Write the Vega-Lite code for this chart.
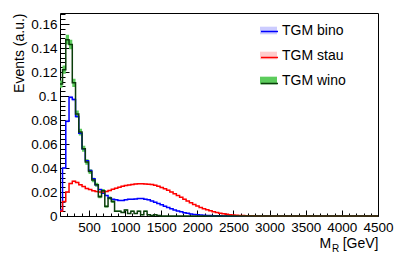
{
  "$schema": "https://vega.github.io/schema/vega-lite/v6.json",
  "width": 318,
  "height": 203,
  "autosize": "none",
  "padding": {"left": 60, "top": 13, "right": 21, "bottom": 39},
  "background": "white",
  "config": {
    "view": {"stroke": "#000000", "strokeWidth": 1},
    "font": "Liberation Sans",
    "axis": {"grid": false, "domain": false, "tickColor": "#000000", "labelColor": "#000000", "titleColor": "#000000", "titleFontWeight": "normal", "labelFont": "Liberation Sans", "titleFont": "Liberation Sans", "labelOverlap": false, "labelFlush": false}
  },
  "data": {"values": [
    {"s":"TGM bino","x":100,"y":0.005,"e":0.0004},
    {"s":"TGM bino","x":135,"y":0.040,"e":0.0008},
    {"s":"TGM bino","x":180,"y":0.079,"e":0.0012},
    {"s":"TGM bino","x":225,"y":0.099,"e":0.0013},
    {"s":"TGM bino","x":270,"y":0.097,"e":0.0013},
    {"s":"TGM bino","x":315,"y":0.083,"e":0.0012},
    {"s":"TGM bino","x":360,"y":0.069,"e":0.0011},
    {"s":"TGM bino","x":405,"y":0.056,"e":0.001},
    {"s":"TGM bino","x":450,"y":0.046,"e":0.0009},
    {"s":"TGM bino","x":495,"y":0.038,"e":0.0008},
    {"s":"TGM bino","x":540,"y":0.031,"e":0.0007},
    {"s":"TGM bino","x":585,"y":0.026,"e":0.0006},
    {"s":"TGM bino","x":630,"y":0.022,"e":0.0006},
    {"s":"TGM bino","x":675,"y":0.019,"e":0.0005},
    {"s":"TGM bino","x":720,"y":0.017,"e":0.0005},
    {"s":"TGM bino","x":765,"y":0.015,"e":0.0005},
    {"s":"TGM bino","x":810,"y":0.014,"e":0.0005},
    {"s":"TGM bino","x":855,"y":0.0135,"e":0.0005},
    {"s":"TGM bino","x":900,"y":0.013,"e":0.0005},
    {"s":"TGM bino","x":945,"y":0.013,"e":0.0005},
    {"s":"TGM bino","x":990,"y":0.0135,"e":0.0005},
    {"s":"TGM bino","x":1035,"y":0.014,"e":0.0005},
    {"s":"TGM bino","x":1080,"y":0.014,"e":0.0005},
    {"s":"TGM bino","x":1125,"y":0.0142,"e":0.0005},
    {"s":"TGM bino","x":1170,"y":0.0145,"e":0.0005},
    {"s":"TGM bino","x":1215,"y":0.0145,"e":0.0005},
    {"s":"TGM bino","x":1260,"y":0.014,"e":0.0005},
    {"s":"TGM bino","x":1305,"y":0.0135,"e":0.0005},
    {"s":"TGM bino","x":1350,"y":0.0125,"e":0.0005},
    {"s":"TGM bino","x":1395,"y":0.0115,"e":0.0004},
    {"s":"TGM bino","x":1440,"y":0.0105,"e":0.0004},
    {"s":"TGM bino","x":1485,"y":0.0093,"e":0.0004},
    {"s":"TGM bino","x":1530,"y":0.0082,"e":0.0004},
    {"s":"TGM bino","x":1575,"y":0.007,"e":0.0004},
    {"s":"TGM bino","x":1620,"y":0.006,"e":0.0003},
    {"s":"TGM bino","x":1665,"y":0.005,"e":0.0003},
    {"s":"TGM bino","x":1710,"y":0.0042,"e":0.0003},
    {"s":"TGM bino","x":1755,"y":0.0035,"e":0.0003},
    {"s":"TGM bino","x":1800,"y":0.0028,"e":0.0002},
    {"s":"TGM bino","x":1845,"y":0.0022,"e":0.0002},
    {"s":"TGM bino","x":1890,"y":0.0017,"e":0.0002},
    {"s":"TGM bino","x":1935,"y":0.0013,"e":0.0002},
    {"s":"TGM bino","x":1980,"y":0.001,"e":0.0001},
    {"s":"TGM bino","x":2025,"y":0.0008,"e":0.0001},
    {"s":"TGM bino","x":2070,"y":0.0006,"e":0.0001},
    {"s":"TGM bino","x":2115,"y":0.0005,"e":0.0001},
    {"s":"TGM bino","x":2160,"y":0.0004,"e":0.0001},
    {"s":"TGM bino","x":2205,"y":0.0003,"e":0.0001},
    {"s":"TGM bino","x":2250,"y":0.0002,"e":0.0001},
    {"s":"TGM bino","x":2340,"y":0.0001,"e":0.0001},
    {"s":"TGM bino","x":2430,"y":0,"e":0},
    {"s":"TGM bino","x":4500,"y":0,"e":0},
    {"s":"TGM stau","x":100,"y":0.004,"e":0.0003},
    {"s":"TGM stau","x":135,"y":0.012,"e":0.0005},
    {"s":"TGM stau","x":180,"y":0.020,"e":0.0006},
    {"s":"TGM stau","x":225,"y":0.027,"e":0.0007},
    {"s":"TGM stau","x":270,"y":0.029,"e":0.0007},
    {"s":"TGM stau","x":315,"y":0.028,"e":0.0007},
    {"s":"TGM stau","x":360,"y":0.026,"e":0.0007},
    {"s":"TGM stau","x":405,"y":0.0245,"e":0.0006},
    {"s":"TGM stau","x":450,"y":0.023,"e":0.0006},
    {"s":"TGM stau","x":495,"y":0.022,"e":0.0006},
    {"s":"TGM stau","x":540,"y":0.021,"e":0.0006},
    {"s":"TGM stau","x":585,"y":0.0205,"e":0.0006},
    {"s":"TGM stau","x":630,"y":0.020,"e":0.0006},
    {"s":"TGM stau","x":675,"y":0.020,"e":0.0006},
    {"s":"TGM stau","x":720,"y":0.0205,"e":0.0006},
    {"s":"TGM stau","x":765,"y":0.0213,"e":0.0006},
    {"s":"TGM stau","x":810,"y":0.0222,"e":0.0006},
    {"s":"TGM stau","x":855,"y":0.0232,"e":0.0006},
    {"s":"TGM stau","x":900,"y":0.024,"e":0.0006},
    {"s":"TGM stau","x":945,"y":0.0248,"e":0.0006},
    {"s":"TGM stau","x":990,"y":0.0254,"e":0.0006},
    {"s":"TGM stau","x":1035,"y":0.0259,"e":0.0006},
    {"s":"TGM stau","x":1080,"y":0.0263,"e":0.0006},
    {"s":"TGM stau","x":1125,"y":0.0266,"e":0.0006},
    {"s":"TGM stau","x":1170,"y":0.0268,"e":0.0006},
    {"s":"TGM stau","x":1215,"y":0.0268,"e":0.0006},
    {"s":"TGM stau","x":1260,"y":0.0267,"e":0.0006},
    {"s":"TGM stau","x":1305,"y":0.0265,"e":0.0006},
    {"s":"TGM stau","x":1350,"y":0.0262,"e":0.0006},
    {"s":"TGM stau","x":1395,"y":0.0256,"e":0.0006},
    {"s":"TGM stau","x":1440,"y":0.0248,"e":0.0006},
    {"s":"TGM stau","x":1485,"y":0.0238,"e":0.0006},
    {"s":"TGM stau","x":1530,"y":0.0227,"e":0.0006},
    {"s":"TGM stau","x":1575,"y":0.0214,"e":0.0006},
    {"s":"TGM stau","x":1620,"y":0.0200,"e":0.0006},
    {"s":"TGM stau","x":1665,"y":0.0186,"e":0.0005},
    {"s":"TGM stau","x":1710,"y":0.0171,"e":0.0005},
    {"s":"TGM stau","x":1755,"y":0.0156,"e":0.0005},
    {"s":"TGM stau","x":1800,"y":0.0140,"e":0.0005},
    {"s":"TGM stau","x":1845,"y":0.0125,"e":0.0005},
    {"s":"TGM stau","x":1890,"y":0.0110,"e":0.0004},
    {"s":"TGM stau","x":1935,"y":0.0096,"e":0.0004},
    {"s":"TGM stau","x":1980,"y":0.0083,"e":0.0004},
    {"s":"TGM stau","x":2025,"y":0.0071,"e":0.0004},
    {"s":"TGM stau","x":2070,"y":0.0061,"e":0.0003},
    {"s":"TGM stau","x":2115,"y":0.0052,"e":0.0003},
    {"s":"TGM stau","x":2160,"y":0.0044,"e":0.0003},
    {"s":"TGM stau","x":2205,"y":0.0036,"e":0.0003},
    {"s":"TGM stau","x":2250,"y":0.0029,"e":0.0002},
    {"s":"TGM stau","x":2295,"y":0.0023,"e":0.0002},
    {"s":"TGM stau","x":2340,"y":0.0018,"e":0.0002},
    {"s":"TGM stau","x":2385,"y":0.0014,"e":0.0002},
    {"s":"TGM stau","x":2430,"y":0.0011,"e":0.0001},
    {"s":"TGM stau","x":2475,"y":0.0008,"e":0.0001},
    {"s":"TGM stau","x":2520,"y":0.0006,"e":0.0001},
    {"s":"TGM stau","x":2565,"y":0.0005,"e":0.0001},
    {"s":"TGM stau","x":2610,"y":0.0004,"e":0.0001},
    {"s":"TGM stau","x":2655,"y":0.0003,"e":0.0001},
    {"s":"TGM stau","x":2700,"y":0.0002,"e":0.0001},
    {"s":"TGM stau","x":2790,"y":0.0001,"e":0.0001},
    {"s":"TGM stau","x":2880,"y":0,"e":0},
    {"s":"TGM stau","x":4500,"y":0,"e":0},
    {"s":"TGM wino","x":100,"y":0.110,"e":0.003},
    {"s":"TGM wino","x":135,"y":0.122,"e":0.0035},
    {"s":"TGM wino","x":180,"y":0.147,"e":0.004},
    {"s":"TGM wino","x":225,"y":0.143,"e":0.004},
    {"s":"TGM wino","x":270,"y":0.111,"e":0.0035},
    {"s":"TGM wino","x":315,"y":0.085,"e":0.003},
    {"s":"TGM wino","x":360,"y":0.070,"e":0.0028},
    {"s":"TGM wino","x":405,"y":0.056,"e":0.0025},
    {"s":"TGM wino","x":450,"y":0.045,"e":0.0022},
    {"s":"TGM wino","x":495,"y":0.037,"e":0.002},
    {"s":"TGM wino","x":540,"y":0.030,"e":0.0018},
    {"s":"TGM wino","x":585,"y":0.026,"e":0.0017},
    {"s":"TGM wino","x":630,"y":0.016,"e":0.0013},
    {"s":"TGM wino","x":675,"y":0.021,"e":0.0015},
    {"s":"TGM wino","x":720,"y":0.008,"e":0.001},
    {"s":"TGM wino","x":765,"y":0.015,"e":0.0012},
    {"s":"TGM wino","x":810,"y":0.012,"e":0.0011},
    {"s":"TGM wino","x":855,"y":0.004,"e":0.0006},
    {"s":"TGM wino","x":900,"y":0.004,"e":0.0006},
    {"s":"TGM wino","x":945,"y":0.003,"e":0.0005},
    {"s":"TGM wino","x":990,"y":0.005,"e":0.0007},
    {"s":"TGM wino","x":1035,"y":0.002,"e":0.0004},
    {"s":"TGM wino","x":1080,"y":0.004,"e":0.0006},
    {"s":"TGM wino","x":1125,"y":0.002,"e":0.0004},
    {"s":"TGM wino","x":1170,"y":0.004,"e":0.0006},
    {"s":"TGM wino","x":1215,"y":0.001,"e":0.0003},
    {"s":"TGM wino","x":1260,"y":0.004,"e":0.0006},
    {"s":"TGM wino","x":1305,"y":0.001,"e":0.0003},
    {"s":"TGM wino","x":1350,"y":0.0005,"e":0.0002},
    {"s":"TGM wino","x":1395,"y":0.001,"e":0.0003},
    {"s":"TGM wino","x":1440,"y":0.0005,"e":0.0002},
    {"s":"TGM wino","x":1485,"y":0,"e":0},
    {"s":"TGM wino","x":4500,"y":0,"e":0}
  ]},
  "layer": [
    {
      "mark": {"type": "errorband", "interpolate": "step-after", "band": {"opacity": 1}},
      "encoding": {
        "x": {"field": "x", "type": "quantitative", "scale": {"domain": [100, 4500], "nice": false, "zero": false},
              "axis": {"orient": "bottom", "values": [500,1000,1500,2000,2500,3000,3500,4000,4500], "format": "d", "tickSize": -6, "labelPadding": 10, "labelFontSize": 13.5,
                       "title": "M", "titleFontSize": 14, "titleAlign": "left", "titleBaseline": "alphabetic", "titleX": 259, "titleY": 31.5}},
        "y": {"field": "y", "type": "quantitative", "scale": {"domain": [0, 0.1692], "nice": false},
              "axis": {"orient": "left", "values": [0,0.02,0.04,0.06,0.08,0.1,0.12,0.14,0.16], "format": "~g", "tickSize": -9, "labelPadding": 12, "labelFontSize": 13.5,
                       "title": "Events (a.u.)", "titleFontSize": 14, "titleAngle": -90, "titleAlign": "right", "titleBaseline": "alphabetic", "titleX": -37, "titleY": 0}},
        "yError": {"field": "e"},
        "color": {"field": "s", "type": "nominal",
                  "scale": {"domain": ["TGM bino", "TGM stau", "TGM wino"], "range": ["#ccccff", "#ffcccc", "#5ccc5c"]},
                  "legend": {"orient": "none", "legendX": 200, "legendY": 9, "title": null, "padding": 0,
                             "symbolType": "M-1,-0.45H1V0.45H-1Z", "symbolSize": 289, "symbolStrokeWidth": 0, "symbolOpacity": 1,
                             "labelFontSize": 14, "labelFont": "Liberation Sans", "labelColor": "#000000", "labelOffset": 5, "rowPadding": 9}}
      }
    },
    {
      "transform": [{"filter": "datum.s !== 'TGM wino'"}],
      "mark": {"type": "line", "interpolate": "step-after", "strokeWidth": 1.5},
      "encoding": {
        "x": {"field": "x", "type": "quantitative",
              "axis": {"orient": "bottom", "values": [200,300,400,600,700,800,900,1100,1200,1300,1400,1600,1700,1800,1900,2100,2200,2300,2400,2600,2700,2800,2900,3100,3200,3300,3400,3600,3700,3800,3900,4100,4200,4300,4400],
                       "tickSize": -3, "labels": false, "title": "R", "titleFontSize": 10, "titleAlign": "left", "titleBaseline": "alphabetic", "titleX": 271.5, "titleY": 35}},
        "y": {"field": "y", "type": "quantitative",
              "axis": {"orient": "left", "values": [0.004,0.008,0.012,0.016,0.024,0.028,0.032,0.036,0.044,0.048,0.052,0.056,0.064,0.068,0.072,0.076,0.084,0.088,0.092,0.096,0.104,0.108,0.112,0.116,0.124,0.128,0.132,0.136,0.144,0.148,0.152,0.156,0.164,0.168],
                       "tickSize": -5, "labels": false, "title": null}},
        "stroke": {"field": "s", "type": "nominal",
                   "scale": {"range": ["#0000ff", "#ff0000", "#0b3d0b"]},
                   "legend": {"orient": "none", "legendX": 200, "legendY": 9, "title": null, "padding": 0,
                              "symbolType": "stroke", "symbolSize": 289, "symbolStrokeWidth": 1.5,
                              "labelFontSize": 14, "labelExpr": "''", "labelOffset": 5, "rowPadding": 9}}
      }
    },
    {
      "transform": [{"filter": "datum.s === 'TGM wino'"}],
      "mark": {"type": "line", "interpolate": "step-after", "strokeWidth": 1.5},
      "encoding": {
        "x": {"field": "x", "type": "quantitative",
              "axis": {"orient": "bottom", "ticks": false, "labels": false, "title": "[GeV]", "titleFontSize": 14, "titleAlign": "right", "titleBaseline": "alphabetic", "titleX": 318, "titleY": 31.5}},
        "y": {"field": "y", "type": "quantitative", "axis": null},
        "stroke": {"field": "s", "type": "nominal"}
      }
    }
  ],
  "resolve": {"axis": {"x": "independent", "y": "independent"}}
}
